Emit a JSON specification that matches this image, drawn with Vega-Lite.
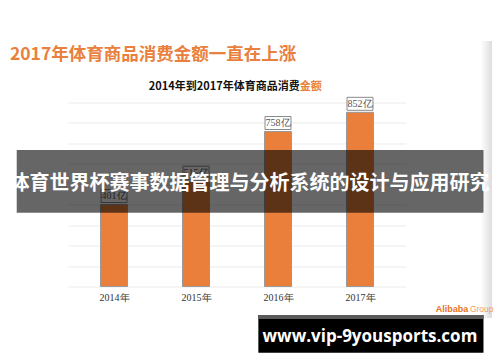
{
  "$schema": "https://vega.github.io/schema/vega-lite/v6.json",
  "width": 338,
  "height": 184,
  "autosize": "none",
  "padding": {"left": 68, "top": 102.5, "right": 94, "bottom": 75.5},
  "background": "white",
  "config": {"view": {"stroke": null}},
  "resolve": {"axis": {"x": "independent", "y": "independent"}},
  "datasets": {
    "sales": [
      {"year": 2014, "value": 401, "label": "401亿"},
      {"year": 2015, "value": 515, "label": "515亿"},
      {"year": 2016, "value": 758, "label": "758亿"},
      {"year": 2017, "value": 852, "label": "852亿"}
    ]
  },
  "layer": [
    {
      "data": {"values": [{"t": "shadow"}]},
      "mark": {"type": "rect", "color": {"x1": 0, "x2": 1, "y1": 0, "y2": 0, "gradient": "linear", "stops": [{"offset": 0, "color": "#ffffff"}, {"offset": 1, "color": "#dddddd"}]}},
      "encoding": {
        "x": {"datum": 2018.47, "type": "quantitative", "scale": {"domain": [2013.5, 2017.5], "nice": false, "zero": false}, "axis": null},
        "x2": {"datum": 2018.61},
        "y": {"datum": 1200.8, "type": "quantitative", "scale": {"domain": [0, 900], "nice": false, "zero": true}, "axis": null},
        "y2": {"datum": -154}
      }
    },
    {
      "data": {"name": "sales"},
      "mark": {"type": "bar", "width": 27, "color": "#E97F3B", "stroke": "#9a9a9a", "strokeWidth": 1},
      "encoding": {
        "x": {
          "field": "year", "type": "quantitative",
          "scale": {"domain": [2013.5, 2017.5], "nice": false, "zero": false},
          "axis": {"values": [2014, 2015, 2016, 2017], "labelExpr": "datum.value + '年'", "title": null, "grid": false, "ticks": false, "domain": false, "labelFont": "Liberation Serif", "labelFontSize": 10, "labelColor": "#333333", "labelPadding": 6}
        },
        "y": {
          "field": "value", "type": "quantitative",
          "scale": {"domain": [0, 900], "nice": false, "zero": true},
          "axis": {"values": [0, 100, 200, 300, 400, 500, 600, 700, 800, 900], "labels": false, "ticks": false, "domain": false, "title": null, "grid": true, "gridColor": "#ebebeb", "gridWidth": 1, "zindex": 0}
        }
      }
    },
    {
      "data": {"name": "sales"},
      "mark": {"type": "point", "shape": "M-1,-0.5L1,-0.5L1,0.5L-1,0.5Z", "size": 676, "filled": true, "fill": "white", "stroke": "#8a8a8a", "strokeWidth": 1, "opacity": 1, "yOffset": -8.5},
      "encoding": {
        "x": {"field": "year", "type": "quantitative", "scale": {"domain": [2013.5, 2017.5], "nice": false, "zero": false}, "axis": null},
        "y": {"field": "value", "type": "quantitative", "scale": {"domain": [0, 900], "nice": false, "zero": true}, "axis": null}
      }
    },
    {
      "data": {"name": "sales"},
      "mark": {"type": "text", "font": "Liberation Serif", "fontSize": 10, "color": "#555555", "baseline": "middle", "yOffset": -8.5},
      "encoding": {
        "x": {"field": "year", "type": "quantitative", "scale": {"domain": [2013.5, 2017.5], "nice": false, "zero": false}, "axis": null},
        "y": {"field": "value", "type": "quantitative", "scale": {"domain": [0, 900], "nice": false, "zero": true}, "axis": null},
        "text": {"field": "label"}
      }
    },
    {
      "data": {"values": [{"t": "2017年体育商品消费金额一直在上涨"}]},
      "mark": {"type": "text", "font": "Noto Sans CJK SC", "fontSize": 17.5, "fontWeight": "bold", "color": "#E9803D", "align": "left", "baseline": "middle"},
      "encoding": {
        "x": {"datum": 2012.7308, "type": "quantitative", "scale": {"domain": [2013.5, 2017.5], "nice": false, "zero": false}, "axis": null},
        "y": {"datum": 1132.4, "type": "quantitative", "scale": {"domain": [0, 900], "nice": false, "zero": true}, "axis": null},
        "text": {"field": "t"}
      }
    },
    {
      "data": {"values": [{"t": "2014年到2017年体育商品消费"}]},
      "mark": {"type": "text", "font": "Noto Sans CJK SC", "fontSize": 11, "fontWeight": "bold", "color": "#111111", "align": "right", "baseline": "middle"},
      "encoding": {
        "x": {"datum": 2016.2645, "type": "quantitative", "scale": {"domain": [2013.5, 2017.5], "nice": false, "zero": false}, "axis": null},
        "y": {"datum": 975.8, "type": "quantitative", "scale": {"domain": [0, 900], "nice": false, "zero": true}, "axis": null},
        "text": {"field": "t"}
      }
    },
    {
      "data": {"values": [{"t": "金额"}]},
      "mark": {"type": "text", "font": "Noto Sans CJK SC", "fontSize": 11, "fontWeight": "bold", "color": "#E9803D", "align": "left", "baseline": "middle"},
      "encoding": {
        "x": {"datum": 2016.2645, "type": "quantitative", "scale": {"domain": [2013.5, 2017.5], "nice": false, "zero": false}, "axis": null},
        "y": {"datum": 975.8, "type": "quantitative", "scale": {"domain": [0, 900], "nice": false, "zero": true}, "axis": null},
        "text": {"field": "t"}
      }
    },
    {
      "data": {"values": [{"t": "banner"}]},
      "mark": {"type": "rect", "color": "#000000", "opacity": 0.6},
      "encoding": {
        "x": {"datum": 2012.8136, "type": "quantitative", "scale": {"domain": [2013.5, 2017.5], "nice": false, "zero": false}, "axis": null},
        "x2": {"datum": 2018.5059},
        "y": {"datum": 667.7, "type": "quantitative", "scale": {"domain": [0, 900], "nice": false, "zero": true}, "axis": null},
        "y2": {"datum": 361}
      }
    },
    {
      "data": {"values": [{"t": "体育世界杯赛事数据管理与分析系统的设计与应用研究"}]},
      "mark": {"type": "text", "font": "Noto Sans CJK SC", "fontSize": 20, "fontWeight": "bold", "color": "#ffffff", "align": "center", "baseline": "middle"},
      "encoding": {
        "x": {"datum": 2015.6538, "type": "quantitative", "scale": {"domain": [2013.5, 2017.5], "nice": false, "zero": false}, "axis": null},
        "y": {"datum": 499, "type": "quantitative", "scale": {"domain": [0, 900], "nice": false, "zero": true}, "axis": null},
        "text": {"field": "t"}
      }
    },
    {
      "data": {"values": [{"t": "Alibaba"}]},
      "mark": {"type": "text", "font": "Liberation Sans", "fontSize": 9, "fontWeight": "bold", "color": "#E8731A", "align": "left", "baseline": "middle"},
      "encoding": {
        "x": {"datum": 2017.9225, "type": "quantitative", "scale": {"domain": [2013.5, 2017.5], "nice": false, "zero": false}, "axis": null},
        "y": {"datum": -110, "type": "quantitative", "scale": {"domain": [0, 900], "nice": false, "zero": true}, "axis": null},
        "text": {"field": "t"}
      }
    },
    {
      "data": {"values": [{"t": "Group"}]},
      "mark": {"type": "text", "font": "Liberation Sans", "fontSize": 8.5, "color": "#F0A060", "align": "left", "baseline": "middle"},
      "encoding": {
        "x": {"datum": 2018.34, "type": "quantitative", "scale": {"domain": [2013.5, 2017.5], "nice": false, "zero": false}, "axis": null},
        "y": {"datum": -110, "type": "quantitative", "scale": {"domain": [0, 900], "nice": false, "zero": true}, "axis": null},
        "text": {"field": "t"}
      }
    },
    {
      "data": {"values": [{"t": "urlbox"}]},
      "mark": {"type": "rect", "color": "#000000"},
      "encoding": {
        "x": {"datum": 2015.7604, "type": "quantitative", "scale": {"domain": [2013.5, 2017.5], "nice": false, "zero": false}, "axis": null},
        "x2": {"datum": 2018.5059},
        "y": {"datum": -139.4, "type": "quantitative", "scale": {"domain": [0, 900], "nice": false, "zero": true}, "axis": null},
        "y2": {"datum": -323.8}
      }
    },
    {
      "data": {"values": [{"t": "urlstrip"}]},
      "mark": {"type": "rect", "color": "#5a5a5a"},
      "encoding": {
        "x": {"datum": 2015.7604, "type": "quantitative", "scale": {"domain": [2013.5, 2017.5], "nice": false, "zero": false}, "axis": null},
        "x2": {"datum": 2018.5059},
        "y": {"datum": -139.4, "type": "quantitative", "scale": {"domain": [0, 900], "nice": false, "zero": true}, "axis": null},
        "y2": {"datum": -159}
      }
    },
    {
      "data": {"values": [{"t": "www.vip-9yousports.com"}]},
      "mark": {"type": "text", "font": "Open Sans", "fontSize": 17, "fontWeight": "bold", "color": "#ffffff", "align": "center", "baseline": "middle"},
      "encoding": {
        "x": {"datum": 2017.1213, "type": "quantitative", "scale": {"domain": [2013.5, 2017.5], "nice": false, "zero": false}, "axis": null},
        "y": {"datum": -245.5, "type": "quantitative", "scale": {"domain": [0, 900], "nice": false, "zero": true}, "axis": null},
        "text": {"field": "t"}
      }
    }
  ]
}
